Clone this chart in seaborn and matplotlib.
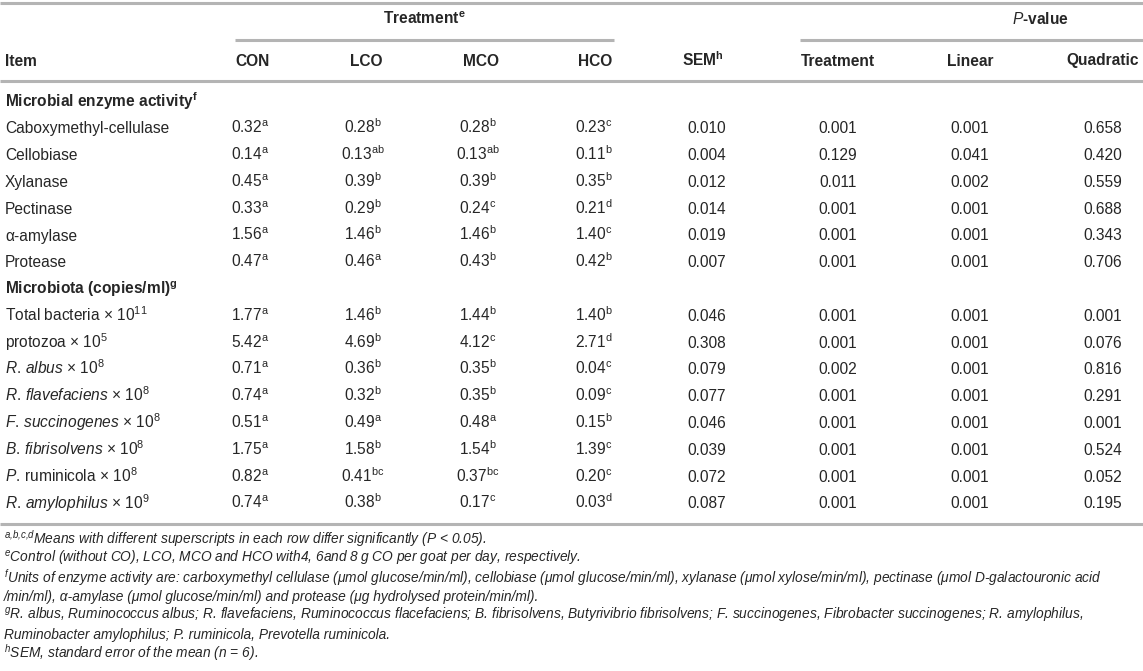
import matplotlib
matplotlib.use('Agg')
import matplotlib.pyplot as plt
import seaborn as sns

# ---- table content ----
group_headers = ['Treatment$^{\\mathregular{e}}$', '$\\mathit{P}$-value']
col_headers = ['CON', 'LCO', 'MCO', 'HCO', 'SEM$^{\\mathregular{h}}$', 'Treatment', 'Linear', 'Quadratic']

section_enzyme = 'Microbial enzyme activity$^{\\mathregular{f}}$'
section_micro = 'Microbiota (copies/ml)$^{\\mathregular{g}}$'

items_enzyme = ['Caboxymethyl-cellulase', 'Cellobiase', 'Xylanase', 'Pectinase',
                'α-amylase', 'Protease']
items_micro = ['Total bacteria × 10$^{\\mathregular{11}}$',
               'protozoa × 10$^{\\mathregular{5}}$',
               '$\\mathit{R.\\,albus}$ × 10$^{\\mathregular{8}}$',
               '$\\mathit{R.\\,flavefaciens}$ × 10$^{\\mathregular{8}}$',
               '$\\mathit{F.\\,succinogenes}$ × 10$^{\\mathregular{8}}$',
               '$\\mathit{B.\\,fibrisolvens}$ × 10$^{\\mathregular{8}}$',
               '$\\mathit{P.}\\,\\mathrm{ruminicola}$ × 10$^{\\mathregular{8}}$',
               '$\\mathit{R.\\,amylophilus}$ × 10$^{\\mathregular{9}}$']

con = [0.32, 0.14, 0.45, 0.33, 1.56, 0.47, 1.77, 5.42, 0.71, 0.74, 0.51, 1.75, 0.82, 0.74]
con_sup = ['a', 'a', 'a', 'a', 'a', 'a', 'a', 'a', 'a', 'a', 'a', 'a', 'a', 'a']
lco = [0.28, 0.13, 0.39, 0.29, 1.46, 0.46, 1.46, 4.69, 0.36, 0.32, 0.49, 1.58, 0.41, 0.38]
lco_sup = ['b', 'ab', 'b', 'b', 'b', 'a', 'b', 'b', 'b', 'b', 'a', 'b', 'bc', 'b']
mco = [0.28, 0.13, 0.39, 0.24, 1.46, 0.43, 1.44, 4.12, 0.35, 0.35, 0.48, 1.54, 0.37, 0.17]
mco_sup = ['b', 'ab', 'b', 'c', 'b', 'b', 'b', 'c', 'b', 'b', 'a', 'b', 'bc', 'c']
hco = [0.23, 0.11, 0.35, 0.21, 1.40, 0.42, 1.40, 2.71, 0.04, 0.09, 0.15, 1.39, 0.20, 0.03]
hco_sup = ['c', 'b', 'b', 'd', 'c', 'b', 'b', 'd', 'c', 'c', 'b', 'c', 'c', 'd']
sem = [0.010, 0.004, 0.012, 0.014, 0.019, 0.007, 0.046, 0.308, 0.079, 0.077, 0.046, 0.039, 0.072, 0.087]
p_treat = [0.001, 0.129, 0.011, 0.001, 0.001, 0.001, 0.001, 0.001, 0.002, 0.001, 0.001, 0.001, 0.001, 0.001]
p_linear = [0.001, 0.041, 0.002, 0.001, 0.001, 0.001, 0.001, 0.001, 0.001, 0.001, 0.001, 0.001, 0.001, 0.001]
p_quad = [0.658, 0.420, 0.559, 0.688, 0.343, 0.706, 0.001, 0.076, 0.816, 0.291, 0.001, 0.524, 0.052, 0.195]

footnotes = [
    '$^{\\mathregular{a{,}b{,}c{,}d}}$Means with different superscripts in each row differ significantly (P < 0.05).',
    '$^{\\mathregular{e}}$Control (without CO), LCO, MCO and HCO with4, 6and 8\u2009g CO per goat per day, respectively.',
    '$^{\\mathregular{f}}$Units of enzyme activity are: carboxymethyl cellulase (μmol glucose/min/ml), cellobiase (μmol glucose/min/ml), '
    'xylanase (μmol xylose/min/ml), pectinase (μmol D-galactouronic acid',
    '/min/ml), α-amylase (μmol glucose/min/ml) and protease (μg hydrolysed protein/min/ml).',
    '$^{\\mathregular{g}}$R. albus, Ruminococcus albus; R. flavefaciens, Ruminococcus flacefaciens; B. fibrisolvens, Butyrivibrio fibrisolvens; '
    'F. succinogenes, Fibrobacter succinogenes; R. amylophilus,',
    'Ruminobacter amylophilus; P. ruminicola, Prevotella ruminicola.',
    '$^{\\mathregular{h}}$SEM, standard error of the mean (n = 6).',
]

# ---- layout (pixel space) ----
W, H = 1143, 671
TXT = '#262626'
RULE = '#b4b4b4'
FS = 11.2       # body font size (pt)
FS_NOTE = 9.9   # footnote font size (pt)
BASE = 5.5      # px from row centre down to baseline

head_x = [253, 366, 481, 595, 703, 838, 970, 1103]
val_x = [250, 363, 478, 594, 707, 838, 970, 1103]
row0, row_step = 101, 26.8

sns.set_theme(style='white')
plt.rcParams['font.family'] = ['Liberation Sans', 'DejaVu Sans']
plt.rcParams['mathtext.fontset'] = 'custom'
plt.rcParams['mathtext.rm'] = 'Liberation Sans'
plt.rcParams['mathtext.it'] = 'Liberation Sans:italic'
plt.rcParams['mathtext.bf'] = 'Liberation Sans:bold'

fig = plt.figure(figsize=(W / 100, H / 100), dpi=100)
ax = fig.add_axes([0, 0, 1, 1])
ax.set_xlim(0, W)
ax.set_ylim(H, 0)
ax.axis('off')


def put(x, y, s, ha='left', **kw):
    kw.setdefault('fontsize', FS)
    kw.setdefault('color', TXT)
    ax.text(x, y + BASE, s, ha=ha, va='baseline', **kw)


# rules
ax.hlines([3, 81, 524], 0, W, color=RULE, lw=2.2)
ax.hlines(40, 235, 614, color=RULE, lw=2.2)
ax.hlines(40, 800, W, color=RULE, lw=2.2)

# headers
put(424, 19, group_headers[0], ha='center', fontweight='bold')
put(1040, 19, group_headers[1], ha='center', fontweight='bold')
put(5, 60, 'Item', fontweight='bold')
for x, h in zip(head_x, col_headers):
    put(x, 60, h, ha='center', fontweight='bold')

# body
rows = [('section', section_enzyme)] + [('item', s) for s in items_enzyme] \
    + [('section', section_micro)] + [('item', s) for s in items_micro]
means = [(con, con_sup), (lco, lco_sup), (mco, mco_sup), (hco, hco_sup)]

i = 0
for k, (kind, label) in enumerate(rows):
    y = row0 + k * row_step
    if kind == 'section':
        put(5, y, label, fontweight='bold')
        continue
    put(5, y, label)
    for j, (vals, sups) in enumerate(means):
        put(val_x[j], y, f'{vals[i]:.2f}$^{{\\mathregular{{{sups[i]}}}}}$', ha='center')
    for j, vals in enumerate([sem, p_treat, p_linear, p_quad]):
        put(val_x[4 + j], y, f'{vals[i]:.3f}', ha='center')
    i += 1

# footnotes
note_y = [539, 558, 578, 596, 615, 634, 653]
for y, s in zip(note_y, footnotes):
    ax.text(4, y + 4.5, s, ha='left', va='baseline', fontsize=FS_NOTE,
            color=TXT, style='italic')

fig.savefig('out.png', dpi=100)
